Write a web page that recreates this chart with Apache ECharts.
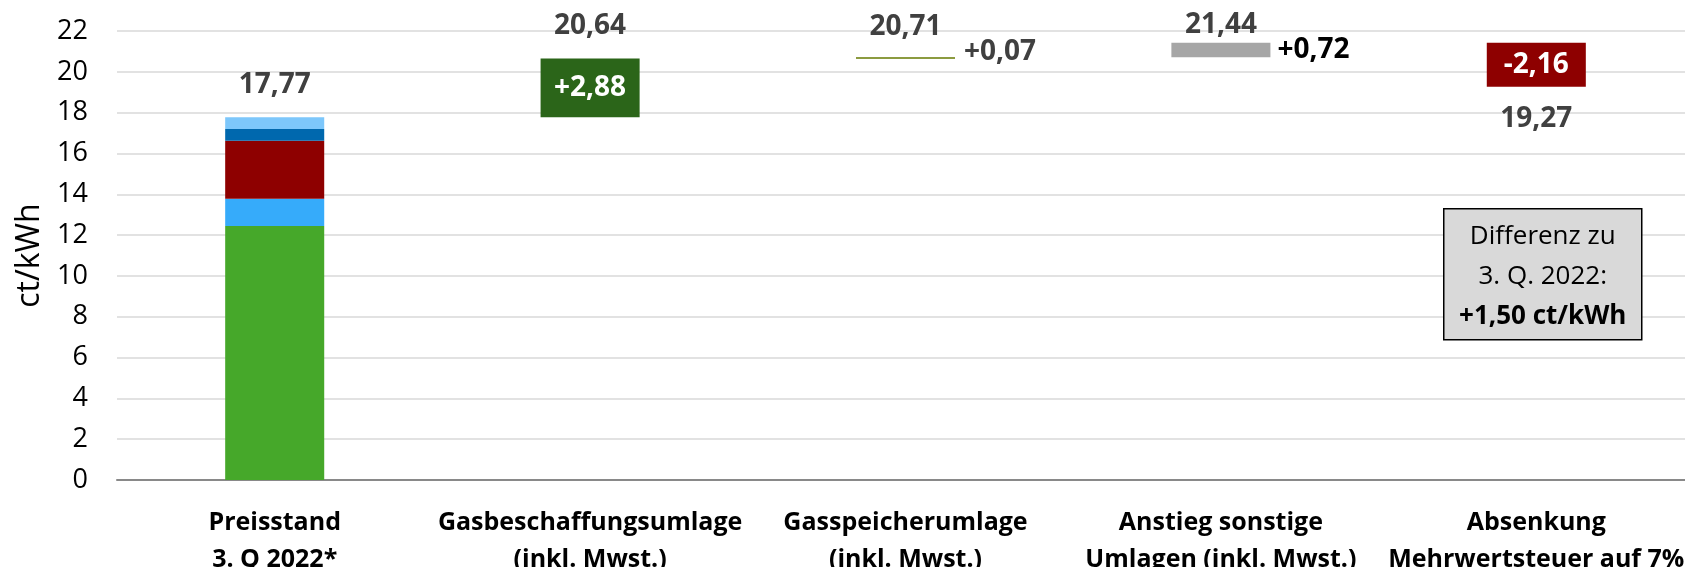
<!DOCTYPE html>
<html>
<head>
<meta charset="utf-8">
<script src="https://cdn.jsdelivr.net/npm/echarts@6.0.0/dist/echarts.min.js"></script>
<style>
html,body{margin:0;padding:0;background:#fff;}
#chart{width:1685px;height:567px;}
</style>
</head>
<body>
<div id="chart"></div>
<script>
// ---- data ----
const categories = [
  'Preisstand\n3. Q 2022*',
  'Gasbeschaffungsumlage\n(inkl. Mwst.)',
  'Gasspeicherumlage\n(inkl. Mwst.)',
  'Anstieg sonstige\nUmlagen (inkl. Mwst.)',
  'Absenkung\nMehrwertsteuer auf 7%'
];
// stacked components of the first bar (bottom to top)
const componentNames = ['Anteil 1', 'Anteil 2', 'Anteil 3', 'Anteil 4', 'Anteil 5'];
const componentValues = [12.45, 1.33, 2.84, 0.58, 0.57];
// running totals shown above the steps
const totals = [17.77, 20.64, 20.71, 21.44, 19.27];
// changes per step (first category has none)
const deltas = [null, 2.88, 0.07, 0.72, -2.16];
const yMin = 0, yMax = 22, yStep = 2;
const noteLines = ['Differenz zu', '3. Q. 2022:', '+1,50 ct/kWh'];

// ---- styles ----
const FONT = 'Open Sans';
const componentColors = ['#46a82a', '#36abfa', '#8e0000', '#0068ae', '#7dc7fb'];
const deltaColors = [null, '#2b6519', '#667a00', '#a6a6a6', '#8e0000'];
const fmt = v => v.toFixed(2).replace('.', ',');
const fmtSigned = v => (v > 0 ? '+' : '') + fmt(v);

const series = [];
componentValues.forEach((v, k) => {
  series.push({
    name: componentNames[k], type: 'bar', stack: 'w', barWidth: '31.4%',
    itemStyle: { color: componentColors[k] },
    data: categories.map((_, i) => i === 0 ? v : '-')
  });
});
// invisible base for the floating steps
series.push({
  name: 'Basis', type: 'bar', stack: 'w', barWidth: '31.4%', silent: true,
  itemStyle: { color: 'transparent' },
  data: categories.map((_, i) => i === 0 ? '-' : Math.min(totals[i - 1], totals[i]))
});
// delta steps
const deltaLabelCfg = [
  null,
  { position: 'inside', color: '#ffffff' },
  { position: 'right', distance: 9, color: '#404040', offset: [0, -6] },
  { position: 'right', distance: 7, color: '#000000' },
  { position: 'inside', color: '#ffffff' }
];
series.push({
  name: 'Änderung', type: 'bar', stack: 'w', barWidth: '31.4%',
  data: categories.map((_, i) => i === 0 ? '-' : {
    value: Math.abs(deltas[i]),
    itemStyle: { color: deltaColors[i] },
    label: Object.assign({ show: true, formatter: fmtSigned(deltas[i]) }, deltaLabelCfg[i])
  }),
  label: { show: true, fontFamily: FONT, fontWeight: 'bold', fontSize: 28 }
});
// total labels
const totalLabelCfg = [
  { position: 'top', distance: 18 },
  { position: 'top', distance: 18 },
  { position: 'top', distance: 16 },
  { position: 'top', distance: 3 },
  { position: 'bottom', distance: 18 }
];
series.push({
  name: 'Summe', type: 'scatter', symbolSize: 1, silent: true,
  itemStyle: { color: 'transparent', opacity: 1 },
  label: { show: true, fontFamily: FONT, fontWeight: 'bold', fontSize: 28, color: '#404040' },
  data: totals.map((t, i) => ({
    value: [i, t],
    label: Object.assign({ formatter: fmt(t) }, totalLabelCfg[i])
  }))
});

const chart = echarts.init(document.getElementById('chart'), null, { renderer: 'canvas' });
chart.setOption({
  animation: false,
  backgroundColor: '#ffffff',
  textStyle: { fontFamily: FONT },
  grid: { left: 117, right: -9, top: 31, bottom: 87, containLabel: false, outerBoundsMode: 'none' },
  xAxis: {
    type: 'category', data: categories,
    axisLine: { show: true, lineStyle: { color: '#898989', width: 2 } },
    axisTick: { show: false },
    axisLabel: {
      interval: 0, fontFamily: FONT, fontWeight: 'bold', fontSize: 25,
      lineHeight: 37, color: '#000000', margin: 24
    }
  },
  yAxis: {
    type: 'value', min: yMin, max: yMax, interval: yStep,
    name: 'ct/kWh', nameLocation: 'middle', nameGap: 70,
    nameTextStyle: { fontFamily: FONT, fontSize: 32, color: '#000000' },
    axisLine: { show: false }, axisTick: { show: false },
    axisLabel: { fontFamily: FONT, fontSize: 27, color: '#000000', margin: 29 },
    splitLine: { lineStyle: { color: '#d9d9d9', width: 1.5 } }
  },
  graphic: [{
    type: 'group', left: 1443, top: 208, z: 100,
    children: [
      { type: 'rect', z: 100, shape: { x: 0, y: 0, width: 198, height: 131 },
        style: { fill: '#d9d9d9', stroke: '#000000', lineWidth: 1.5 } },
      { type: 'text', z: 101, x: 99, y: 68,
        style: {
          text: '{n|' + noteLines[0] + '}\n{n|' + noteLines[1] + '}\n{b|' + noteLines[2] + '}',
          align: 'center', verticalAlign: 'middle',
          fill: '#000000', stroke: null, lineWidth: 0,
          rich: {
            n: { fontFamily: FONT, fontSize: 26, lineHeight: 40, fill: '#000000', stroke: null, lineWidth: 0, align: 'center' },
            b: { fontFamily: FONT, fontSize: 26, lineHeight: 40, fontWeight: 'bold', fill: '#000000', stroke: null, lineWidth: 0, align: 'center' }
          }
        } }
    ]
  }],
  series: series
});
</script>
</body>
</html>
